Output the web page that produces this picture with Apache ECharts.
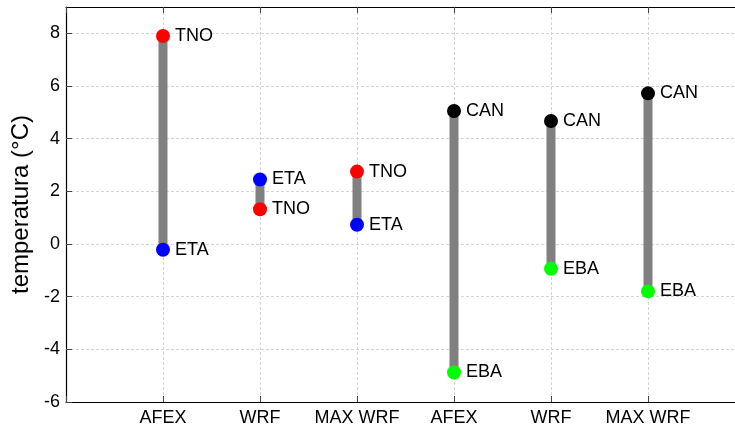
<!DOCTYPE html>
<html>
<head>
<meta charset="utf-8">
<script src="https://cdn.jsdelivr.net/npm/echarts@6/dist/echarts.min.js"></script>
<style>
  html, body { margin: 0; padding: 0; background: #fff; }
  #chart { width: 735px; height: 431px; }
</style>
</head>
<body>
<div id="chart"></div>
<script>
// Model groups along the x axis (positions 1..6)
const categories = ['AFEX', 'WRF', 'MAX WRF', 'AFEX', 'WRF', 'MAX WRF'];
// Temperature per source (°C); null where a source is not shown in that group
const tno = [7.9, 1.32, 2.75, null, null, null];
const eta = [-0.22, 2.45, 0.73, null, null, null];
const can = [null, null, null, 5.05, 4.67, 5.72];
const eba = [null, null, null, -4.88, -0.94, -1.8];
const yTicks = [-6, -4, -2, 0, 2, 4, 6, 8];

const sources = [
  { name: 'TNO', values: tno, color: '#ff0000' },
  { name: 'ETA', values: eta, color: '#0000ff' },
  { name: 'CAN', values: can, color: '#000000' },
  { name: 'EBA', values: eba, color: '#00ff00' }
];

// Range bar for each group: from lowest to highest source value
const ranges = categories.map((c, i) => {
  const vals = sources.map(s => s.values[i]).filter(v => v !== null);
  return [i + 1, Math.min(...vals), Math.max(...vals)];
});

const font = 'Liberation Sans, Arial, sans-serif';

const chart = echarts.init(document.getElementById('chart'), null, { renderer: 'canvas' });

const xAxisBase = {
  type: 'value',
  min: 0,
  max: 7,
  interval: 1,
  axisLine: { show: true, onZero: false, lineStyle: { color: '#000', width: 1.2 } },
  axisTick: { show: true, inside: true, length: 6, lineStyle: { color: '#444', width: 1 } },
  splitLine: { show: false }
};

chart.setOption({
  animation: false,
  backgroundColor: '#fff',
  // the plot frame runs a little past the right edge of the canvas
  grid: {
    left: 66, top: 7, width: 679, height: 395,
    containLabel: false, outerBoundsMode: 'none'
  },
  xAxis: [
    Object.assign({}, xAxisBase, {
      position: 'bottom',
      splitLine: { show: true, lineStyle: { color: '#d4d4d4', type: [3, 2], width: 1 } },
      axisLabel: {
        color: '#000', fontSize: 18, fontFamily: font, margin: 7,
        formatter: v => (v >= 1 && v <= categories.length) ? categories[v - 1] : ''
      }
    }),
    Object.assign({}, xAxisBase, {
      position: 'top',
      axisLabel: { show: false }
    })
  ],
  yAxis: {
    type: 'value',
    min: -6,
    max: 9,
    interval: 2,
    name: 'temperatura (°C)',
    nameLocation: 'middle',
    nameGap: 33,
    nameTextStyle: { color: '#000', fontSize: 24, fontFamily: font },
    axisLine: { show: true, lineStyle: { color: '#000', width: 1.2 } },
    axisTick: { show: true, inside: true, length: 6, lineStyle: { color: '#444', width: 1 } },
    axisLabel: {
      color: '#000', fontSize: 18, fontFamily: font, margin: 6, showMaxLabel: false,
      formatter: v => yTicks.includes(v) ? String(v) : ''
    },
    splitLine: { show: true, lineStyle: { color: '#d4d4d4', type: [3, 2], width: 1 } }
  },
  series: [
    {
      type: 'custom',
      xAxisIndex: 0,
      data: ranges,
      renderItem: (params, api) => {
        const p1 = api.coord([api.value(0), api.value(1)]);
        const p2 = api.coord([api.value(0), api.value(2)]);
        return {
          type: 'line',
          shape: { x1: p1[0], y1: p1[1], x2: p2[0], y2: p2[1] },
          style: { stroke: '#808080', lineWidth: 9 }
        };
      },
      z: 1
    }
  ].concat(sources.map(s => ({
    type: 'scatter',
    name: s.name,
    xAxisIndex: 0,
    symbol: 'circle',
    symbolSize: 14,
    itemStyle: { color: s.color, opacity: 1 },
    label: {
      show: true,
      position: 'right',
      distance: 5,
      formatter: s.name,
      color: '#000',
      fontSize: 18,
      fontFamily: font
    },
    data: s.values.map((v, i) => v === null ? null : [i + 1, v]).filter(d => d !== null),
    z: 3
  })))
});
</script>
</body>
</html>
